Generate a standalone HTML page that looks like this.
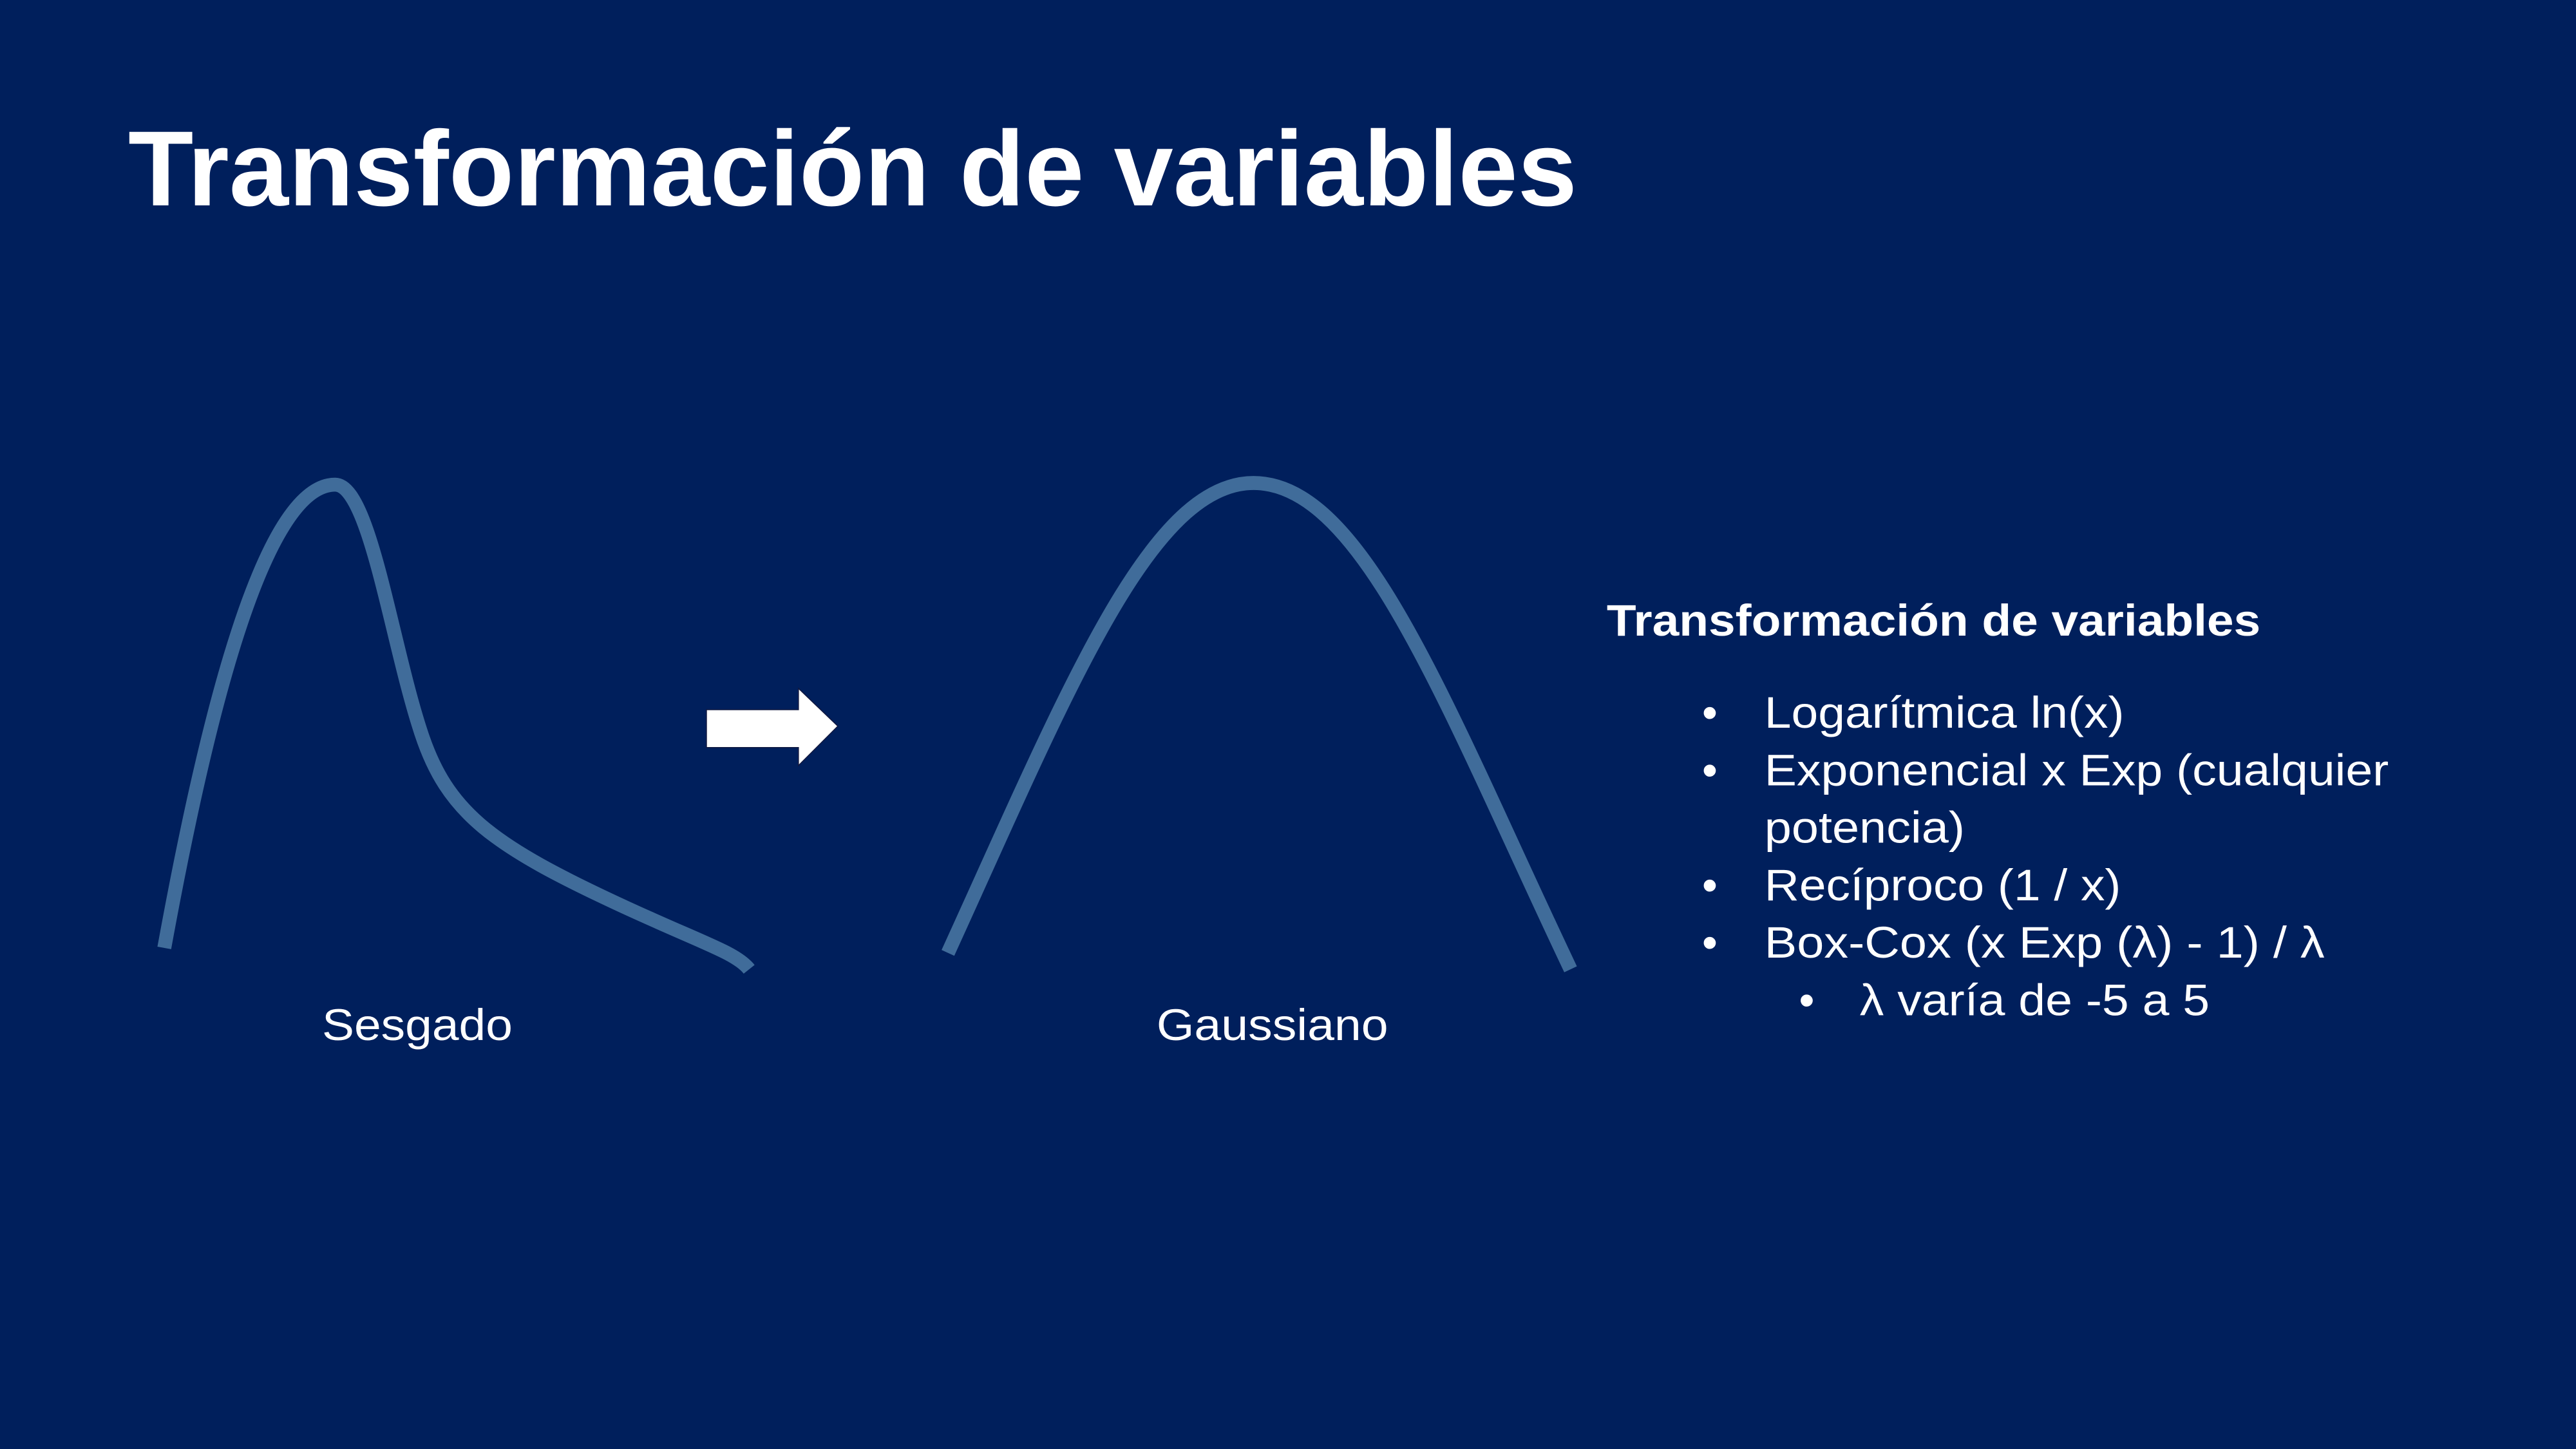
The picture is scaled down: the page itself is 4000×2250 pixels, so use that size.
<!DOCTYPE html>
<html><head><meta charset="utf-8"><style>
html,body{margin:0;padding:0;background:#001f5c;}
svg{display:block;}
text{font-family:"Liberation Sans",Arial,sans-serif;fill:#fff;}
</style></head><body>
<svg width="4000" height="2250" viewBox="0 0 1568 882" preserveAspectRatio="none" xmlns="http://www.w3.org/2000/svg">
<rect width="1568" height="882" fill="#001f5c"/>
<text x="78" y="125" font-size="65" font-weight="bold" textLength="882" lengthAdjust="spacingAndGlyphs">Transformación de variables</text>
<path d="M100,577 C125,440 160,295 204,295 C225,295 238,390 256,445 C272,495 300,515 380,552 C430,575 448,580 456,590" fill="none" stroke="#406c9a" stroke-width="8.5"/>
<path d="M577,580 C650,420 700,294 763,294 C830,294 880,430 956,590" fill="none" stroke="#406c9a" stroke-width="8.5"/>
<polygon points="430,432 486,432 486,419 510,442 486,466 486,455 430,455" fill="#fff" stroke="#101840" stroke-width="0.6"/>
<text x="196" y="633" font-size="27" textLength="116" lengthAdjust="spacingAndGlyphs">Sesgado</text>
<text x="704" y="633" font-size="27" textLength="141" lengthAdjust="spacingAndGlyphs">Gaussiano</text>
<text x="978" y="387" font-size="27" font-weight="bold" textLength="398" lengthAdjust="spacingAndGlyphs">Transformación de variables</text>
<g font-size="27">
<text x="1036" y="443">•</text><text x="1074" y="443" textLength="219" lengthAdjust="spacingAndGlyphs">Logarítmica ln(x)</text>
<text x="1036" y="478">•</text><text x="1074" y="478" textLength="380" lengthAdjust="spacingAndGlyphs">Exponencial x Exp (cualquier</text>
<text x="1074" y="513" textLength="122" lengthAdjust="spacingAndGlyphs">potencia)</text>
<text x="1036" y="548">•</text><text x="1074" y="548" textLength="217" lengthAdjust="spacingAndGlyphs">Recíproco (1 / x)</text>
<text x="1036" y="583">•</text><text x="1074" y="583" textLength="341" lengthAdjust="spacingAndGlyphs">Box-Cox (x Exp (λ) - 1) / λ</text>
<text x="1095" y="618">•</text><text x="1132" y="618" textLength="213" lengthAdjust="spacingAndGlyphs">λ varía de -5 a 5</text>
</g>
</svg>
</body></html>
